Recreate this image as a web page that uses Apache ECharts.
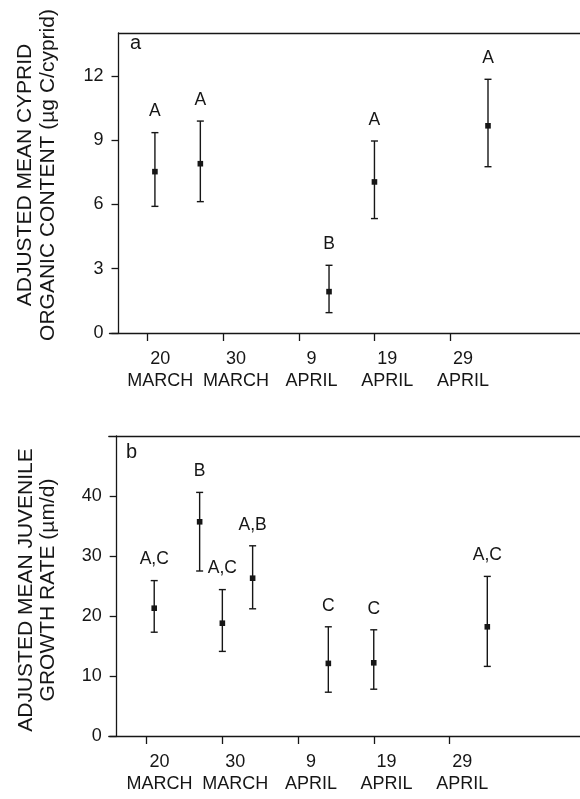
<!DOCTYPE html>
<html><head><meta charset="utf-8">
<script src="https://cdn.jsdelivr.net/npm/echarts@6/dist/echarts.min.js"></script>
<style>html,body{margin:0;padding:0;background:#fff}#c{width:580px;height:799px}</style>
</head><body><div id="c"></div>
<script>
// x values: days after 20 March
const tickDays = [0, 10, 20, 30, 40];
const tickLabels = ['20\nMARCH', '30\nMARCH', '9\nAPRIL', '19\nAPRIL', '29\nAPRIL'];

// panel a: adjusted mean cyprid organic content (µg C/cyprid)
const daysA = [1, 7, 24, 30, 45];
const meanA = [7.53, 7.90, 1.93, 7.05, 9.67];
const lowerA = [5.91, 6.13, 0.95, 5.34, 7.76];
const upperA = [9.35, 9.89, 3.16, 8.96, 11.84];
const lettersA = ['A', 'A', 'B', 'A', 'A'];
const yTicksA = [0, 3, 6, 9, 12];

// panel b: adjusted mean juvenile growth rate (µm/d)
const daysB = [1, 7, 10, 14, 24, 30, 45];
const meanB = [21.3, 35.7, 18.8, 26.3, 12.1, 12.2, 18.2];
const lowerB = [17.3, 27.5, 14.1, 21.2, 7.3, 7.8, 11.6];
const upperB = [25.9, 40.6, 24.4, 31.7, 18.2, 17.7, 26.6];
const lettersB = ['A,C', 'B', 'A,C', 'A,B', 'C', 'C', 'A,C'];
const yTicksB = [0, 10, 20, 30, 40];

const FONT = '"Liberation Sans", Arial, Helvetica, sans-serif';
const INK = '#161616';
const lineStyle = { color: INK, width: 1.3 };
const X_MIN = -5, X_MAX = 60;
const LABEL_SHIFT = 1.7; // labels sit slightly right of their ticks in the original

function bottomAxis(gi) {
  return {
    gridIndex: gi, type: 'value', min: X_MIN, max: X_MAX, position: 'bottom',
    axisLine: { show: true, onZero: false, lineStyle },
    axisTick: { show: true, customValues: tickDays, length: 8, inside: false, lineStyle },
    axisLabel: { show: false },
    splitLine: { show: false }
  };
}
function labelAxis(gi) {
  return {
    gridIndex: gi, type: 'value', min: X_MIN - LABEL_SHIFT, max: X_MAX - LABEL_SHIFT, position: 'bottom',
    axisLine: { show: false, onZero: false }, axisTick: { show: false }, splitLine: { show: false },
    axisLabel: {
      customValues: tickDays, hideOverlap: false,
      formatter: function (v) { const k = tickDays.indexOf(v); return k >= 0 ? tickLabels[k] : ''; },
      fontSize: 18, lineHeight: 22, margin: 15, color: INK, fontFamily: FONT
    }
  };
}
function topAxis(gi) {
  return {
    gridIndex: gi, type: 'value', min: X_MIN, max: X_MAX, position: 'top',
    axisLine: { show: true, onZero: false, lineStyle },
    axisTick: { show: false }, axisLabel: { show: false }, splitLine: { show: false }
  };
}
function leftAxis(gi, max, ticks, name, offset, nameGap, namePad) {
  return {
    gridIndex: gi, type: 'value', min: 0, max: max, offset: offset,
    axisLine: { show: true, onZero: false, lineStyle },
    axisTick: { show: true, customValues: ticks, length: 7, lineStyle },
    axisLabel: { customValues: ticks, fontSize: 18, margin: 15, color: INK, fontFamily: FONT },
    splitLine: { show: false },
    name: name, nameLocation: 'middle', nameRotate: 90, nameGap: nameGap,
    nameTextStyle: { fontSize: 21, lineHeight: 22.5, color: INK, fontFamily: FONT, padding: namePad }
  };
}

function makeRender(letters) {
  return function (params, api) {
    const i = params.dataIndex;
    const x = api.value(0);
    const pm = api.coord([x, api.value(1)]);
    const pl = api.coord([x, api.value(2)]);
    const pu = api.coord([x, api.value(3)]);
    const cap = 3.5;
    const st = { stroke: INK, lineWidth: 1.4 };
    return {
      type: 'group', children: [
        { type: 'line', shape: { x1: pu[0], y1: pu[1], x2: pl[0], y2: pl[1] }, style: st },
        { type: 'line', shape: { x1: pu[0] - cap, y1: pu[1], x2: pu[0] + cap, y2: pu[1] }, style: st },
        { type: 'line', shape: { x1: pl[0] - cap, y1: pl[1], x2: pl[0] + cap, y2: pl[1] }, style: st },
        { type: 'rect', shape: { x: pm[0] - 2.8, y: pm[1] - 2.8, width: 5.6, height: 5.6 }, style: { fill: INK } },
        { type: 'text', x: pu[0], y: pu[1] - 21,
          style: { text: letters[i], fontSize: 17.5, fontFamily: FONT, fill: INK, align: 'center', verticalAlign: 'middle' } }
      ]
    };
  };
}

const chart = echarts.init(document.getElementById('c'), null, { renderer: 'canvas' });
const G = { outerBoundsMode: 'none', containLabel: false };
const PX_PER_DAY = 7.57;
const W = (X_MAX - X_MIN) * PX_PER_DAY;
chart.setOption({
  animation: false,
  backgroundColor: '#fff',
  title: [
    { text: 'a', left: 125, top: 28, textStyle: { fontSize: 20, fontWeight: 'normal', color: INK, fontFamily: FONT } },
    { text: 'b', left: 121, top: 437, textStyle: { fontSize: 20, fontWeight: 'normal', color: INK, fontFamily: FONT } }
  ],
  grid: [
    Object.assign({ left: 109.5, top: 33, width: W, height: 300 }, G),
    Object.assign({ left: 108.8, top: 436, width: W, height: 300 }, G),
    Object.assign({ left: 118.5, top: 33, width: W - 9, height: 300 }, G)
  ],
  xAxis: [bottomAxis(0), labelAxis(0), bottomAxis(1), labelAxis(1), topAxis(1), topAxis(2)],
  yAxis: [
    leftAxis(0, 14, yTicksA, 'ADJUSTED MEAN CYPRID\nORGANIC CONTENT (µg C/cyprid)', -9, 59.3, [0, 0, 0, 16]),
    leftAxis(1, 50, yTicksB, 'ADJUSTED MEAN JUVENILE\nGROWTH RATE (µm/d)', -7.9, 57.2, [0, 8, 0, 0]),
    { gridIndex: 2, type: 'value', min: 0, max: 14, show: false }
  ],
  series: [
    {
      type: 'custom', xAxisIndex: 0, yAxisIndex: 0,
      data: daysA.map((d, i) => [d, meanA[i], lowerA[i], upperA[i]]),
      encode: { x: 0, y: [1, 2, 3] },
      renderItem: makeRender(lettersA)
    },
    {
      type: 'custom', xAxisIndex: 2, yAxisIndex: 1,
      data: daysB.map((d, i) => [d, meanB[i], lowerB[i], upperB[i]]),
      encode: { x: 0, y: [1, 2, 3] },
      renderItem: makeRender(lettersB)
    }
  ]
});
</script>
</body></html>
